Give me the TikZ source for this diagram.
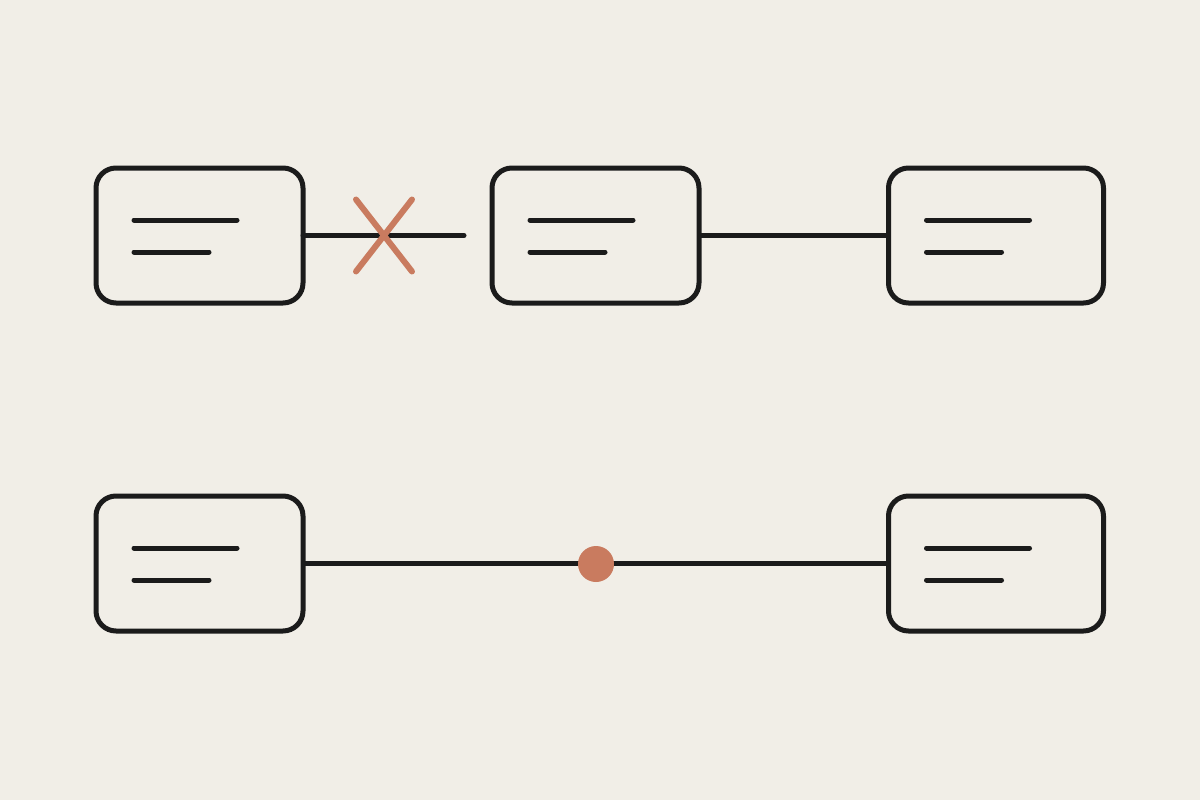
\documentclass[tikz,border=0pt]{standalone}
\usetikzlibrary{calc}
\definecolor{bgc}{HTML}{F1EEE7}
\definecolor{ink}{HTML}{1B1B1B}
\definecolor{accent}{HTML}{C97B5F}
\begin{document}
\begin{tikzpicture}[x=1pt,y=-1pt,
  card/.style={draw=ink,line width=5pt,rounded corners=20pt,minimum height=135pt,inner sep=0pt,outer sep=0pt},
  txt/.style={draw=ink,line width=5pt,line cap=round},
  conn/.style={draw=ink,line width=5pt},
  cross/.style={draw=accent,line width=6pt,line cap=round},
  dotn/.style={circle,fill=accent,minimum size=36pt,inner sep=0pt}]
\fill[bgc] (0,0) rectangle (1200,800);
\useasboundingbox (0,0) rectangle (1200,800);
% cards
\node[card,minimum width=207pt] (b1) at (199.5,235.5) {};
\node[card,minimum width=207pt] (b2) at (595.5,235.5) {};
\node[card,minimum width=215pt] (b3) at (996,235.5) {};
\node[card,minimum width=207pt] (b4) at (199.5,563.5) {};
\node[card,minimum width=215pt] (b5) at (996,563.5) {};
% text lines
\foreach \b in {b1,b2,b3,b4,b5}{
  \draw[txt] ([xshift=38pt,yshift=15.5pt]\b.west) -- ++(103,0);
  \draw[txt] ([xshift=38pt,yshift=-16.5pt]\b.west) -- ++(75,0);
}
% connectors
\coordinate (e1) at (464,235.5);
\draw[conn,line cap=round] (b1.east) -- (e1);
\draw[conn] (b2.east) -- (b3.west);
\draw[conn] (b4.east) -- (b5.west);
% broken mark
\coordinate (xc) at (384,235.5);
\draw[cross] ($(xc)+(-28,-36)$) -- ($(xc)+(28,36)$);
\draw[cross] ($(xc)+(28,-36)$) -- ($(xc)+(-28,36)$);
% dot
\node[dotn] (d) at (596,564) {};
\end{tikzpicture}
\end{document}
